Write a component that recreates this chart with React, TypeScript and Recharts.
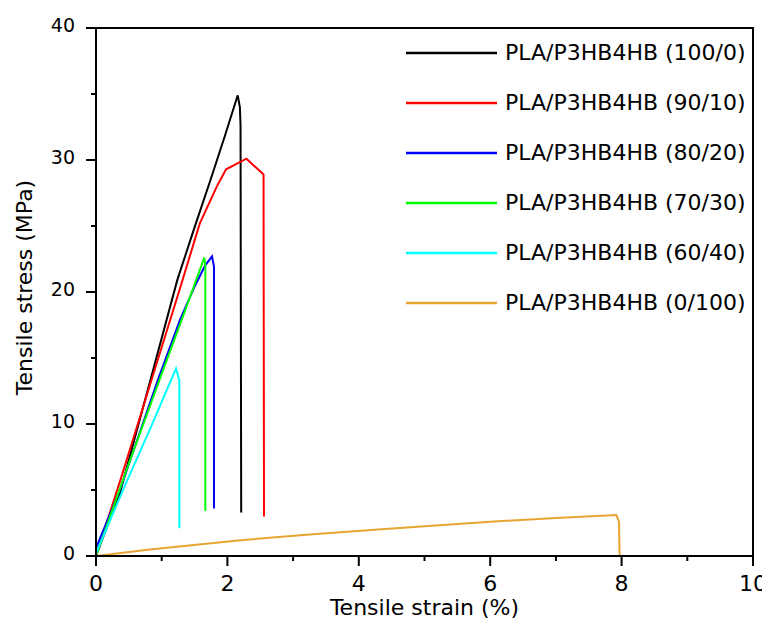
import React from 'react';
import { LineChart, Line, XAxis, YAxis, ReferenceArea, Legend } from 'recharts';

const FONT = "'DejaVu Sans', Verdana, sans-serif";

// Tick values
const xTicks = [0, 1, 2, 3, 4, 5, 6, 7, 8, 9, 10];
const yTicks = [0, 5, 10, 15, 20, 25, 30, 35, 40];

// Series: tensile strain (%) vs tensile stress (MPa)
const pla100 = [
  { strain: 0, stress: 0 },
  { strain: 0.365, stress: 4.8 },
  { strain: 0.8, stress: 12.8 },
  { strain: 1.237, stress: 20.9 },
  { strain: 1.5, stress: 24.9 },
  { strain: 1.75, stress: 28.6 },
  { strain: 1.96, stress: 31.8 },
  { strain: 2.157, stress: 34.9 },
  { strain: 2.19, stress: 34.0 },
  { strain: 2.2, stress: 32.6 },
  { strain: 2.21, stress: 3.3 },
];
const pla90 = [
  { strain: 0, stress: 0 },
  { strain: 0.4, stress: 6.2 },
  { strain: 0.846, stress: 13.35 },
  { strain: 1.28, stress: 20.3 },
  { strain: 1.58, stress: 25.2 },
  { strain: 1.84, stress: 28.0 },
  { strain: 1.98, stress: 29.3 },
  { strain: 2.29, stress: 30.1 },
  { strain: 2.55, stress: 28.9 },
  { strain: 2.557, stress: 3.0 },
];
const pla80 = [
  { strain: 0, stress: 0.6 },
  { strain: 0.365, stress: 5.0 },
  { strain: 0.94, stress: 13.3 },
  { strain: 1.28, stress: 17.9 },
  { strain: 1.5, stress: 20.4 },
  { strain: 1.66, stress: 22.0 },
  { strain: 1.766, stress: 22.7 },
  { strain: 1.796, stress: 21.9 },
  { strain: 1.796, stress: 3.6 },
];
const pla70 = [
  { strain: 0, stress: 0 },
  { strain: 0.5, stress: 7.0 },
  { strain: 1.0, stress: 13.8 },
  { strain: 1.4, stress: 19.2 },
  { strain: 1.648, stress: 22.6 },
  { strain: 1.664, stress: 22.0 },
  { strain: 1.664, stress: 3.4 },
];
const pla60 = [
  { strain: 0, stress: 0.2 },
  { strain: 0.42, stress: 5.1 },
  { strain: 0.82, stress: 9.6 },
  { strain: 1.218, stress: 14.2 },
  { strain: 1.268, stress: 13.3 },
  { strain: 1.268, stress: 2.1 },
];
const pla0 = [
  { strain: 0, stress: 0 },
  { strain: 0.82, stress: 0.5 },
  { strain: 2.2, stress: 1.2 },
  { strain: 3.3, stress: 1.65 },
  { strain: 4.4, stress: 2.05 },
  { strain: 6.0, stress: 2.6 },
  { strain: 7.0, stress: 2.88 },
  { strain: 7.92, stress: 3.1 },
  { strain: 7.96, stress: 2.6 },
  { strain: 7.97, stress: 0 },
];

const seriesNames = [
  'PLA/P3HB4HB (100/0)',
  'PLA/P3HB4HB (90/10)',
  'PLA/P3HB4HB (80/20)',
  'PLA/P3HB4HB (70/30)',
  'PLA/P3HB4HB (60/40)',
  'PLA/P3HB4HB (0/100)',
];
const seriesColors = ['#000000', '#ff0000', '#0000ff', '#00ff00', '#00ffff', '#e6a532'];
const seriesData = [pla100, pla90, pla80, pla70, pla60, pla0];

const XTick = (props: any) => {
  const { x, y, payload } = props;
  const v = payload.value;
  const major = v % 2 === 0;
  return (
    <g>
      <line x1={x} x2={x} y1={y} y2={y + (major ? 10 : 5)} stroke="#000" strokeWidth={2} />
      {major && (
        <text x={x} y={y + 35} textAnchor="middle" fontSize={22} fontFamily={FONT} fill="#000">
          {v}
        </text>
      )}
    </g>
  );
};

const YTick = (props: any) => {
  const { x, y, payload } = props;
  const v = payload.value;
  const major = v % 10 === 0;
  return (
    <g>
      <line x1={x - (major ? 10 : 5)} x2={x} y1={y} y2={y} stroke="#000" strokeWidth={2} />
      {major && (
        <text x={x - 21} y={y + 3.5} textAnchor="end" fontSize={19} fontFamily={FONT} fill="#000">
          {v}
        </text>
      )}
    </g>
  );
};

const XTitle = (props: any) => {
  const vb = props.viewBox || { x: 88, y: 548, width: 657, height: 66 };
  return (
    <text x={vb.x + vb.width / 2} y={vb.y + 59} textAnchor="middle" fontSize={22} fontFamily={FONT} fill="#000">
      Tensile strain (%)
    </text>
  );
};

const YTitle = (props: any) => {
  const vb = props.viewBox || { x: 0, y: 20, width: 88, height: 528 };
  const cx = vb.x + 24;
  const cy = vb.y + vb.height / 2 - 4.5;
  return (
    <text
      x={cx}
      y={cy}
      transform={`rotate(-90, ${cx}, ${cy})`}
      textAnchor="middle"
      fontSize={22}
      fontFamily={FONT}
      fill="#000"
    >
      Tensile stress (MPa)
    </text>
  );
};

const LegendContent = (props: any) => {
  const payload = [...(props.payload || [])].sort(
    (a: any, b: any) => seriesNames.indexOf(a.value) - seriesNames.indexOf(b.value)
  );
  return (
    <div style={{ fontFamily: FONT, fontSize: 22, color: '#000' }}>
      {payload.map((p: any) => (
        <div key={p.value} style={{ display: 'flex', alignItems: 'center', height: 50 }}>
          <svg width={91} height={6} style={{ display: 'block' }}>
            <line x1={0} x2={91} y1={3} y2={3} stroke={p.color} strokeWidth={2.5} />
          </svg>
          <span style={{ marginLeft: 8, whiteSpace: 'nowrap', lineHeight: '26px' }}>{p.value}</span>
        </div>
      ))}
    </div>
  );
};

export default function App() {
  return (
    <LineChart width={762} height={614} margin={{ top: 20, right: 17, bottom: 0, left: 0 }}>
      <XAxis
        type="number"
        dataKey="strain"
        domain={[0, 10]}
        ticks={xTicks}
        interval={0}
        tick={XTick}
        tickSize={0}
        tickMargin={0}
        tickLine={false}
        axisLine={{ stroke: '#000', strokeWidth: 2 }}
        height={66}
        label={XTitle}
      />
      <YAxis
        type="number"
        domain={[0, 40]}
        ticks={yTicks}
        interval={0}
        tick={YTick}
        tickSize={0}
        tickMargin={0}
        tickLine={false}
        axisLine={{ stroke: '#000', strokeWidth: 2 }}
        width={88}
        label={YTitle}
      />
      <ReferenceArea x1={0} x2={10} y1={0} y2={40} fill="none" stroke="#000" strokeWidth={2} />
      {seriesData.map((d, i) => (
        <Line
          key={seriesNames[i]}
          data={d}
          dataKey="stress"
          name={seriesNames[i]}
          type="linear"
          stroke={seriesColors[i]}
          strokeWidth={2}
          dot={false}
          activeDot={false}
          isAnimationActive={false}
        />
      ))}
      <Legend
        layout="vertical"
        align="center"
        verticalAlign="middle"
        width={360}
        itemSorter={null as any}
        content={LegendContent}
        wrapperStyle={{ position: 'absolute', left: 398, top: 20, width: 360, margin: 0 }}
      />
    </LineChart>
  );
}
